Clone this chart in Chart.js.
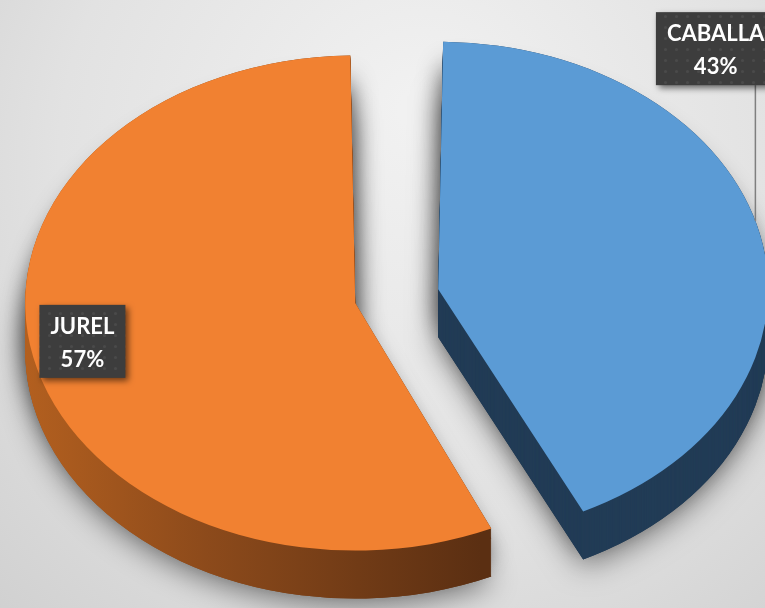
<!DOCTYPE html>
<html><head><meta charset="utf-8">
<script src="https://cdn.jsdelivr.net/npm/chart.js@4"></script>
<style>html,body{margin:0;padding:0;background:#e4e4e4;overflow:hidden}canvas{display:block}</style>
</head><body>
<canvas id="c" width="765" height="608"></canvas>
<script>
// ---- data ----
const categories = ['CABALLA', 'JUREL'];
const values = [43, 57];
const topColors = ['#5B9BD5', '#F18131'];

// ---- style ----
const TILT = 0.75;      // vertical squash of the pie (3D view)
const DEPTH = 48;       // thickness of the pie in px
const blueSide = '#223C56';

function tilt(ctx, cx, cy) {
  ctx.translate(cx, cy); ctx.scale(1, TILT); ctx.translate(-cx, -cy);
}
function arcGeom(arc) {
  const t = (arc.options.offset || 0) / 4;
  const circ = arc.endAngle - arc.startAngle;
  const fix = 1 - Math.sin(Math.min(Math.PI, circ || 0));
  const h = (arc.startAngle + arc.endAngle) / 2;
  return { x: arc.x + Math.cos(h) * t, y: arc.y + Math.sin(h) * t * TILT, r: arc.outerRadius + t * fix };
}
function dotPattern(ctx) {
  const c = document.createElement('canvas'); c.width = 11; c.height = 11;
  const g = c.getContext('2d');
  g.fillStyle = '#3d3d3d'; g.fillRect(0, 0, 11, 11);
  g.fillStyle = '#4a4a4a'; g.beginPath(); g.arc(5.5, 5.5, 1.6, 0, Math.PI * 2); g.fill();
  return ctx.createPattern(c, 'repeat');
}
function drawLayer(ctx, arcs, cx, cy, d, colors) {
  ctx.save();
  ctx.translate(0, d);
  tilt(ctx, cx, cy);
  arcs.forEach((arc, i) => {
    const prev = arc.options;
    arc.options = Object.assign({}, prev, { backgroundColor: colors[i] });
    arc.draw(ctx);
    arc.options = prev;
  });
  ctx.restore();
}

const pie3d = {
  id: 'pie3d',
  beforeDraw(chart) {
    const { ctx, width, height } = chart;
    const g = ctx.createRadialGradient(420, 110, 20, 420, 200, 640);
    g.addColorStop(0, '#f1f1f1'); g.addColorStop(0.55, '#e2e2e2'); g.addColorStop(1, '#cdcdcd');
    ctx.save(); ctx.fillStyle = g; ctx.fillRect(0, 0, width, height); ctx.restore();
  },
  beforeDatasetsDraw(chart) {
    const ctx = chart.ctx;
    const arcs = chart.getDatasetMeta(0).data;
    const cx = arcs[0].x, cy = arcs[0].y;
    const og = ctx.createLinearGradient(cx - 370, 0, cx + 125, 0);
    og.addColorStop(0, '#bb6420'); og.addColorStop(0.45, '#8c4a1b'); og.addColorStop(1, '#5b2f12');
    const sides = [blueSide, og];
    // cast shadows
    ctx.save();
    ctx.shadowColor = 'rgba(0,0,0,0.5)'; ctx.shadowBlur = 30; ctx.shadowOffsetY = 6;
    drawLayer(ctx, arcs, cx, cy, DEPTH, sides);
    ctx.shadowColor = 'rgba(0,0,0,0.45)'; ctx.shadowBlur = 26; ctx.shadowOffsetY = 14;
    drawLayer(ctx, arcs, cx, cy, 10, sides);
    ctx.shadowColor = 'rgba(0,0,0,0.3)'; ctx.shadowBlur = 20; ctx.shadowOffsetY = 30;
    drawLayer(ctx, arcs, cx, cy, 0, sides);
    ctx.restore();
    // extruded sides
    for (let d = DEPTH; d >= 1; d--) drawLayer(ctx, arcs, cx, cy, d, sides);
    ctx.save();
    tilt(ctx, cx, cy);
  },
  afterDatasetsDraw(chart, args, opts) {
    const ctx = chart.ctx;
    ctx.restore();
    const arcs = chart.getDatasetMeta(0).data;
    const total = values.reduce((a, b) => a + b, 0);
    const pat = dotPattern(ctx);
    ctx.save();
    ctx.font = 'bold 22px Lato';
    arcs.forEach((arc, i) => {
      const p = opts.placement[i];
      const r = arc.outerRadius;
      const ang = p.angle * Math.PI / 180;
      const bx = arc.x + Math.cos(ang) * r * p.dist;
      const by = arc.y + Math.sin(ang) * r * p.dist * TILT;
      const lines = [categories[i], Math.round(values[i] / total * 100) + '%'];
      const w = Math.max(...lines.map(s => ctx.measureText(s).width)) + 22;
      const h = 73;
      const x0 = bx - w / 2, y0 = by - h / 2;
      if (p.leader) {
        const g = arcGeom(arc);
        const lx = x0 + w - 20;
        const dx = lx - g.x;
        const ly = g.y - Math.sqrt(Math.max(g.r * g.r - dx * dx, 0)) * TILT;
        ctx.save();
        ctx.strokeStyle = '#7f7f7f'; ctx.lineWidth = 1.5;
        ctx.beginPath(); ctx.moveTo(lx, y0 + h); ctx.lineTo(lx, ly); ctx.stroke();
        ctx.restore();
      }
      ctx.save();
      ctx.shadowColor = 'rgba(0,0,0,0.55)'; ctx.shadowBlur = 6; ctx.shadowOffsetX = 3; ctx.shadowOffsetY = 3;
      ctx.fillStyle = pat; ctx.fillRect(x0, y0, w, h);
      ctx.restore();
      ctx.fillStyle = '#ffffff'; ctx.textAlign = 'center'; ctx.textBaseline = 'alphabetic';
      ctx.fillText(lines[0], bx, by - 7.5);
      ctx.fillText(lines[1], bx, by + 25.5);
    });
    ctx.restore();
  }
};

new Chart(document.getElementById('c'), {
  type: 'pie',
  data: {
    labels: categories,
    datasets: [{
      data: values,
      backgroundColor: topColors,
      borderWidth: 0,
      offset: [216, 124],
      radius: 299,
      clip: false
    }]
  },
  options: {
    responsive: false,
    animation: false,
    events: [],
    layout: { padding: { left: 6, right: 0, top: 0, bottom: 12 } },
    plugins: {
      legend: { display: false },
      tooltip: { enabled: false },
      pie3d: {
        placement: [
          { angle: -45.2, dist: 1.567, leader: true },
          { angle: 169.2, dist: 1.032, leader: false }
        ]
      }
    }
  },
  plugins: [pie3d]
});
</script>
</body></html>
